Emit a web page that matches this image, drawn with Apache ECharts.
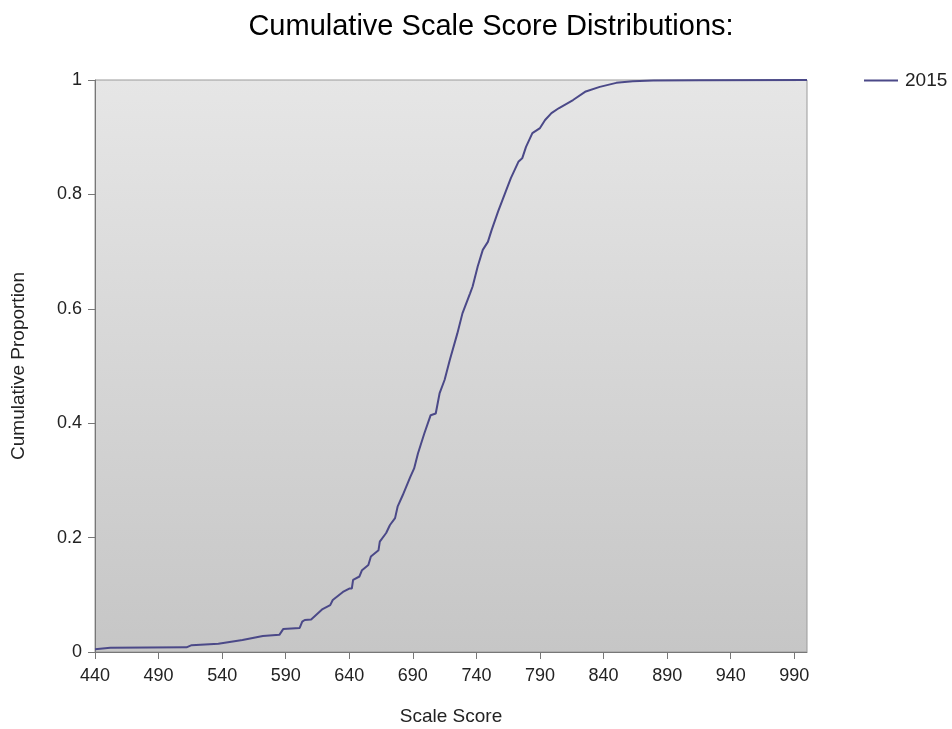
<!DOCTYPE html>
<html>
<head>
<meta charset="utf-8">
<script src="https://cdn.jsdelivr.net/npm/echarts@6/dist/echarts.min.js"></script>
<style>
html,body{margin:0;padding:0;background:#fff;}
#chart{width:952px;height:729px;}
</style>
</head>
<body>
<div id="chart"></div>
<script>
const titleText = 'Cumulative Scale Score Distributions:';
const seriesName = '2015';
const xTickValues = [440, 490, 540, 590, 640, 690, 740, 790, 840, 890, 940, 990];
const yTickValues = [0, 0.2, 0.4, 0.6, 0.8, 1];
const scores = [440, 452, 512, 516, 537, 556, 572, 585, 588, 601, 603, 605, 610, 619, 625, 627, 635, 640, 642, 643, 648, 650, 655, 657, 663, 664, 669, 672, 676, 678, 682, 688, 691, 694, 699, 704, 708, 711, 715, 719, 725, 729, 735, 737, 741, 745, 749, 752, 757, 763, 767, 773, 776, 779, 784, 790, 794, 799, 805, 816, 826, 837, 850, 863, 879, 915, 1000];
const proportions = [0.005, 0.0075, 0.0082, 0.012, 0.0145, 0.021, 0.028, 0.030, 0.040, 0.042, 0.053, 0.056, 0.057, 0.075, 0.082, 0.091, 0.105, 0.111, 0.111, 0.126, 0.132, 0.143, 0.152, 0.167, 0.178, 0.193, 0.208, 0.222, 0.234, 0.254, 0.274, 0.306, 0.321, 0.347, 0.382, 0.414, 0.417, 0.452, 0.476, 0.510, 0.557, 0.592, 0.627, 0.639, 0.674, 0.703, 0.717, 0.738, 0.770, 0.805, 0.828, 0.857, 0.863, 0.883, 0.907, 0.916, 0.930, 0.942, 0.951, 0.965, 0.980, 0.988, 0.995, 0.998, 0.999, 0.9995, 1.0];

const chart = echarts.init(document.getElementById('chart'));
const font = 'Arial, "Liberation Sans", sans-serif';
chart.setOption({
  animation: false,
  textStyle: { fontFamily: font },
  title: {
    text: titleText,
    left: 486, top: 7, textAlign: 'center',
    textStyle: { fontSize: 29, fontWeight: 'normal', color: '#000', fontFamily: font }
  },
  legend: {
    data: [seriesName],
    left: 859, top: 66, icon: 'rect',
    itemWidth: 34, itemHeight: 2, itemGap: 10,
    textStyle: { fontSize: 19, color: '#222', fontFamily: font, padding: [0, 0, 0, 2] }
  },
  grid: {
    left: 95, right: 145, top: 80, bottom: 77,
    outerBoundsMode: 'none',
    containLabel: false,
    show: true,
    borderColor: '#9a9a9a', borderWidth: 1,
    backgroundColor: {
      type: 'linear', x: 0, y: 0, x2: 0, y2: 1,
      colorStops: [{ offset: 0, color: '#e6e6e6' }, { offset: 1, color: '#c6c6c6' }]
    }
  },
  xAxis: {
    type: 'value', min: 440, max: 1000,
    name: 'Scale Score', nameLocation: 'middle', nameGap: 55,
    nameTextStyle: { fontSize: 19, color: '#222', fontFamily: font },
    axisLine: { show: true, onZero: false, lineStyle: { color: '#777', width: 1 } },
    axisTick: { show: true, length: 7, customValues: xTickValues, lineStyle: { color: '#777' } },
    axisLabel: { customValues: xTickValues, fontSize: 18, color: '#222', margin: 15, fontFamily: font },
    splitLine: { show: false }
  },
  yAxis: {
    type: 'value', min: 0, max: 1, interval: 0.2,
    name: 'Cumulative Proportion', nameLocation: 'middle', nameGap: 67, nameRotate: 90,
    nameTextStyle: { fontSize: 19, color: '#222', fontFamily: font },
    axisLine: { show: true, lineStyle: { color: '#777', width: 1 } },
    axisTick: { show: true, length: 7, lineStyle: { color: '#777' } },
    axisLabel: { fontSize: 18, color: '#222', margin: 13, fontFamily: font,
      formatter: function (v) { return String(Math.round(v * 10) / 10); } },
    splitLine: { show: false }
  },
  series: [{
    name: seriesName,
    type: 'line',
    symbol: 'none',
    data: scores.map((s, i) => [s, proportions[i]]),
    lineStyle: { color: '#4b4988', width: 2 },
    itemStyle: { color: '#4b4988' }
  }]
});
</script>
</body>
</html>
